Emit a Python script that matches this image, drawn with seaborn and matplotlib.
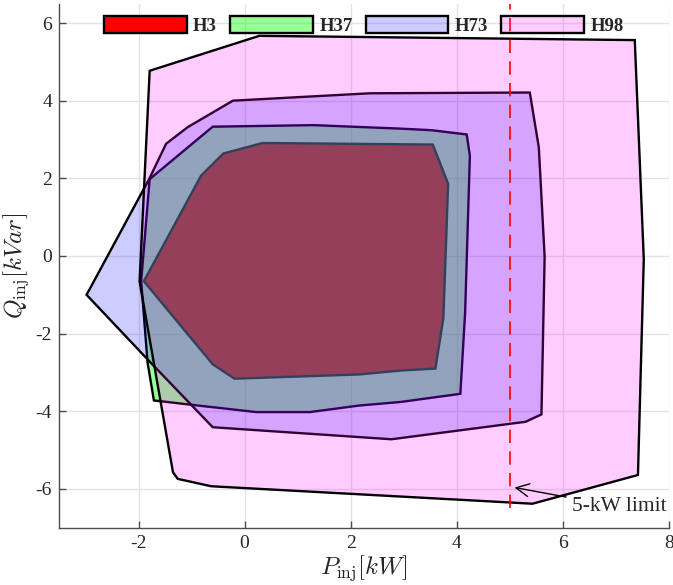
import numpy as np
import pandas as pd
import matplotlib
matplotlib.use("Agg")
import matplotlib.pyplot as plt
import seaborn as sns

# operating region vertices (P in kW, Q in kVar)
h3_p = [-1.90, -0.82, -0.40, 0.34, 3.55, 3.84, 3.75, 3.60, 2.94, 2.17, -0.19, -0.60]
h3_q = [-0.65, 2.07, 2.64, 2.91, 2.87, 1.86, -1.60, -2.90, -2.95, -3.05, -3.16, -2.79]

h37_p = [-1.95, -1.79, -0.60, 1.30, 2.94, 3.52, 4.19, 4.25, 4.16, 4.07, 2.94, 2.17, 1.23, 0.22, -1.08, -1.71, -1.83]
h37_q = [-0.65, 1.98, 3.33, 3.37, 3.28, 3.24, 3.13, 2.58, -1.46, -3.55, -3.76, -3.85, -4.02, -4.02, -3.82, -3.72, -2.74]

h73_p = [-2.98, -1.80, -1.48, -1.07, -0.22, 2.36, 5.38, 5.55, 5.66, 5.60, 5.30, 2.77, -0.60, -1.79]
h73_q = [-1.00, 1.98, 2.89, 3.32, 4.00, 4.19, 4.21, 2.80, -0.02, -4.08, -4.27, -4.72, -4.41, -2.72]

h98_p = [-1.79, 0.28, 7.36, 7.53, 7.42, 5.43, 4.90, -0.63, -1.26, -1.35, -1.98]
h98_q = [4.77, 5.67, 5.56, -0.08, -5.64, -6.38, -6.34, -5.93, -5.74, -5.57, -0.66]

regions = ["H3", "H37", "H73", "H98"]
limit_p = [5, 5]
limit_q = [-6.5, 6.5]

sns.set_theme(style="whitegrid")
plt.rcParams["font.family"] = ["Liberation Serif", "DejaVu Serif"]
plt.rcParams["mathtext.fontset"] = "cm"
plt.rcParams["axes.unicode_minus"] = False

fig = plt.figure(figsize=(6.73, 5.85), dpi=100)
ax = fig.add_axes([59 / 673, 57.2 / 585, 609.7 / 673, 524.2 / 585])

styles = {
    "H3": (1, 0, 0, 1.0),
    "H37": (0, 1, 0, 0.4),
    "H73": (0, 0, 1, 0.2),
    "H98": (1, 0, 1, 0.2),
}
data = {"H3": (h3_p, h3_q), "H37": (h37_p, h37_q), "H73": (h73_p, h73_q), "H98": (h98_p, h98_q)}
for name in regions:
    p, q = data[name]
    ax.fill(p, q, facecolor=styles[name], edgecolor="black", lw=1.7, label=name, zorder=2)

lim = pd.DataFrame({"P": limit_p, "Q": limit_q})
sns.lineplot(data=lim, x="P", y="Q", color="red", lw=1.2, linestyle=(0, (8, 5)),
             sort=False, estimator=None, ax=ax, zorder=3)

ax.annotate("5-kW limit", xy=(5.04, -5.95), xytext=(6.18, -6.46), fontsize=15.5,
            va="center", ha="left",
            arrowprops=dict(arrowstyle="->,head_length=0.6,head_width=0.3", color="black", lw=1.0))

ax.set_xlim(-3.5, 8)
ax.set_ylim(-7, 6.5)
ax.set_xticks([-2, 0, 2, 4, 6, 8])
ax.set_yticks([-6, -4, -2, 0, 2, 4, 6])
ax.grid(True, color="#e3e3e3", lw=1.0)
ax.set_axisbelow(True)
ax.set_facecolor("white")
for s in ["top", "right"]:
    ax.spines[s].set_visible(False)
for s in ["left", "bottom"]:
    ax.spines[s].set_color("#4d4d4d")
    ax.spines[s].set_linewidth(1.0)
ax.tick_params(direction="in", length=5, width=1, color="#4d4d4d", labelsize=14,
               labelcolor="#262626", left=True, bottom=True, pad=5)

ax.set_xlabel(r"$P_{\rm inj}[kW]$", fontsize=18, labelpad=1)
ax.set_ylabel(r"$Q_{\rm inj}[kVar]$", fontsize=18, labelpad=3)

leg = ax.legend(loc="upper center", bbox_to_anchor=(0.5, 1.0), ncol=4, frameon=False,
                handlelength=4.4, handleheight=1.0, handletextpad=0.35, columnspacing=0.7,
                borderaxespad=0.25, prop={"weight": "bold", "size": 13.5})

fig.savefig("out.png", dpi=100)
